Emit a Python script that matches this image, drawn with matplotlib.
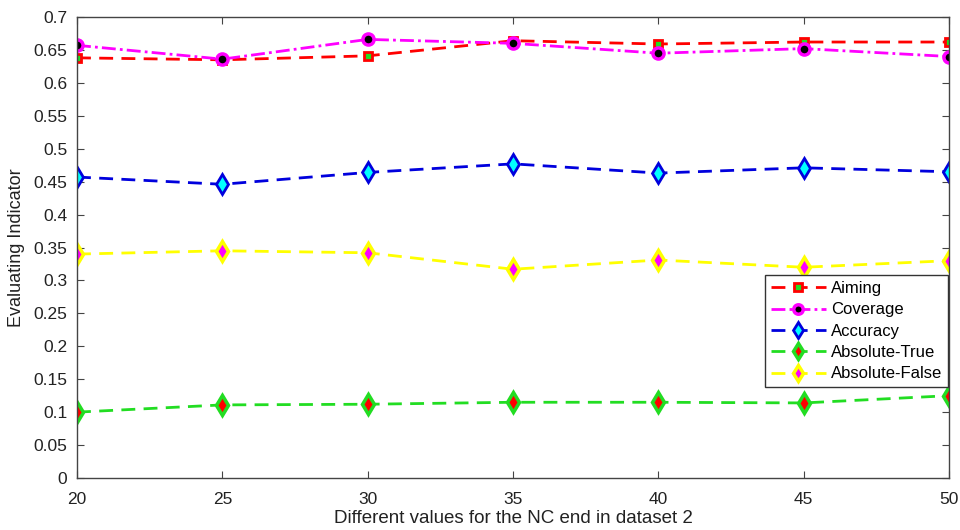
import matplotlib
matplotlib.use('Agg')
import matplotlib.pyplot as plt

plt.rcParams['font.family'] = ['Liberation Sans', 'DejaVu Sans']

nc_end = [20, 25, 30, 35, 40, 45, 50]
aiming = [0.638, 0.635, 0.641, 0.664, 0.659, 0.662, 0.662]
coverage = [0.657, 0.636, 0.666, 0.660, 0.645, 0.652, 0.640]
accuracy = [0.457, 0.446, 0.464, 0.477, 0.463, 0.471, 0.465]
abs_true = [0.100, 0.111, 0.112, 0.115, 0.115, 0.114, 0.125]
abs_false = [0.340, 0.345, 0.342, 0.317, 0.331, 0.320, 0.330]
ytick_labels = ['0', '0.05', '0.1', '0.15', '0.2', '0.25', '0.3', '0.35',
                '0.4', '0.45', '0.5', '0.55', '0.6', '0.65', '0.7']

fig = plt.figure(figsize=(9.6, 5.3), dpi=100)
ax = fig.add_axes([77/960, 52/530, 872/960, 461/530])

dash = (5, 3)
ax.plot(nc_end, aiming, '--', dashes=dash, color='red', lw=2, marker='s', ms=6,
        mfc='#22dd22', mec='red', mew=2, label='Aiming')
ax.plot(nc_end, coverage, '-.', dashes=(5, 1.5, 1, 1.5), color='magenta', lw=2,
        marker='o', ms=8, mfc='black', mec='magenta', mew=2.5, label='Coverage')
ax.plot(nc_end, accuracy, '--', dashes=dash, color='#0000dd', lw=2, marker='d', ms=10,
        mfc='cyan', mec='#0000dd', mew=2, label='Accuracy')
ax.plot(nc_end, abs_true, '--', dashes=dash, color='#22dd22', lw=2, marker='d', ms=10,
        mfc='red', mec='#22dd22', mew=2.5, label='Absolute-True')
ax.plot(nc_end, abs_false, '--', dashes=dash, color='yellow', lw=2, marker='d', ms=10,
        mfc='magenta', mec='yellow', mew=2.5, label='Absolute-False')

ax.set_xlim(20, 50)
ax.set_ylim(0, 0.7)
ax.set_xticks(nc_end)
ax.set_yticks([i * 0.05 for i in range(15)])
ax.set_yticklabels(ytick_labels)
ax.tick_params(direction='in', length=5, labelsize=12.5, top=True, right=True,
               color='#444444', labelcolor='#222222')
ax.tick_params(axis='x', pad=10)
ax.tick_params(axis='y', pad=7)
for s in ax.spines.values():
    s.set_color('#444444')
    s.set_linewidth(1)

ax.set_xlabel('Different values for the NC end in dataset 2', fontsize=13.5,
              labelpad=2, color='#222222')
ax.set_ylabel('Evaluating Indicator', fontsize=13, color='#222222', labelpad=6)

leg = ax.legend(loc='lower right', bbox_to_anchor=(0.9986, 0.197), fontsize=12,
                fancybox=False, edgecolor='#333333', framealpha=1,
                handlelength=3.3, borderpad=0.35, labelspacing=0.38,
                handletextpad=0.3, markerscale=0.85, borderaxespad=0)
leg.get_frame().set_linewidth(1)

fig.savefig('out.png', dpi=100)
